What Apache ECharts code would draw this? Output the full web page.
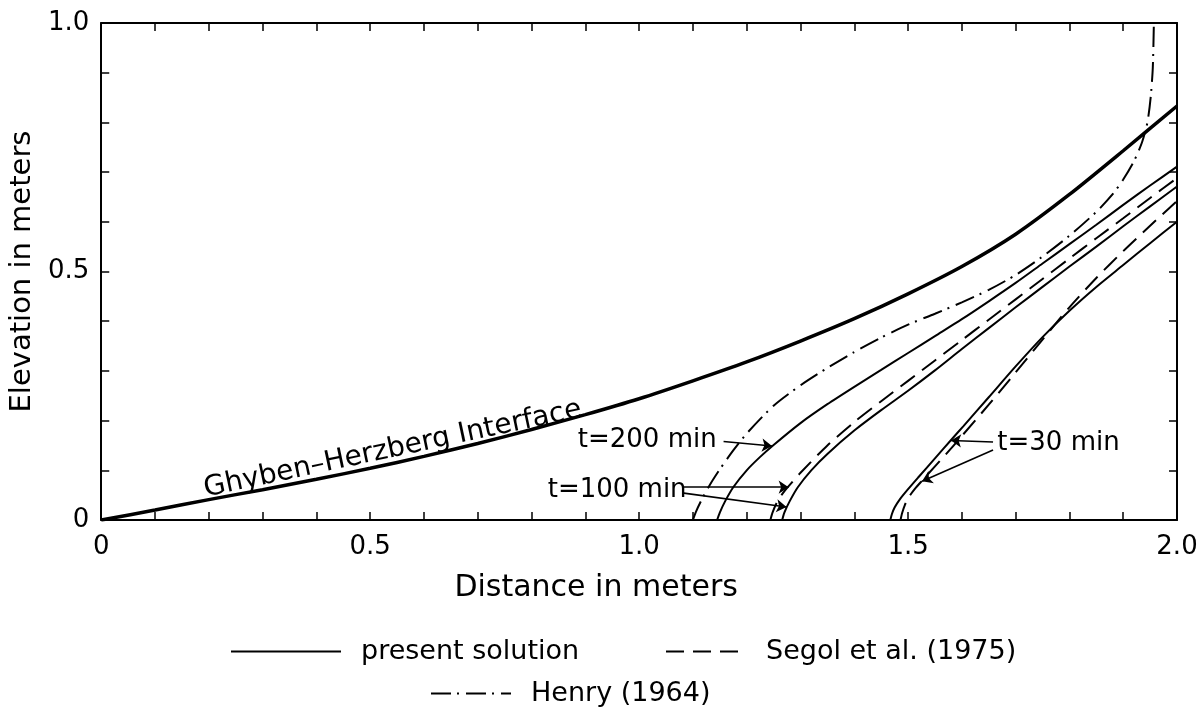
<!DOCTYPE html>
<html>
<head>
<meta charset="utf-8">
<script src="https://cdn.jsdelivr.net/npm/echarts@6/dist/echarts.min.js"></script>
<style>
  html, body { margin: 0; padding: 0; background: #fff; }
  #chart { width: 1201px; height: 711px; }
</style>
</head>
<body>
<div id="chart"></div>
<script>
// Interface and saltwater-wedge toe positions, [distance m, elevation m]
const ghybenHerzberg = [[0,0],[0.1,0.020],[0.2,0.041],[0.3,0.061],[0.4,0.082],[0.5,0.104],[0.6,0.128],[0.7,0.154],[0.8,0.182],[0.9,0.212],[1.0,0.244],[1.1,0.280],[1.2,0.318],[1.3,0.360],[1.4,0.405],[1.5,0.455],[1.6,0.510],[1.7,0.575],[1.8,0.655],[1.9,0.743],[2.0,0.833]];
const present200 = [[1.145,0],[1.15,0.015],[1.16,0.038],[1.175,0.066],[1.20,0.100],[1.225,0.127],[1.25,0.151],[1.30,0.195],[1.35,0.233],[1.40,0.268],[1.45,0.302],[1.50,0.336],[1.55,0.370],[1.60,0.404],[1.65,0.440],[1.70,0.477],[1.75,0.516],[1.80,0.555],[1.85,0.594],[1.90,0.634],[1.95,0.673],[2.0,0.711]];
const present100 = [[1.266,0],[1.27,0.015],[1.28,0.038],[1.295,0.066],[1.32,0.10],[1.35,0.133],[1.40,0.180],[1.45,0.221],[1.50,0.260],[1.55,0.301],[1.60,0.344],[1.65,0.386],[1.70,0.428],[1.75,0.469],[1.80,0.510],[1.85,0.550],[1.90,0.591],[1.95,0.631],[2.0,0.671]];
const present30 = [[1.467,0],[1.47,0.012],[1.475,0.025],[1.485,0.042],[1.50,0.062],[1.52,0.087],[1.55,0.124],[1.58,0.161],[1.603,0.189],[1.65,0.247],[1.70,0.309],[1.75,0.368],[1.80,0.421],[1.85,0.469],[1.90,0.513],[1.95,0.557],[2.0,0.600]];
const segol100 = [[1.244,0],[1.248,0.015],[1.256,0.035],[1.266,0.052],[1.278,0.068],[1.30,0.095],[1.35,0.150],[1.40,0.197],[1.45,0.239],[1.50,0.280],[1.55,0.321],[1.60,0.362],[1.65,0.403],[1.70,0.444],[1.75,0.485],[1.80,0.526],[1.85,0.567],[1.90,0.607],[1.95,0.648],[2.0,0.688]];
const segol30 = [[1.486,0],[1.489,0.014],[1.494,0.03],[1.502,0.047],[1.513,0.063],[1.526,0.079],[1.55,0.108],[1.58,0.144],[1.60,0.169],[1.65,0.232],[1.70,0.297],[1.75,0.363],[1.80,0.428],[1.85,0.487],[1.90,0.541],[1.95,0.592],[2.0,0.642]];
const henry1964 = [[1.10,0],[1.105,0.015],[1.115,0.038],[1.13,0.068],[1.15,0.102],[1.175,0.140],[1.20,0.174],[1.25,0.230],[1.30,0.271],[1.35,0.306],[1.40,0.338],[1.45,0.367],[1.50,0.393],[1.55,0.415],[1.60,0.438],[1.65,0.463],[1.70,0.493],[1.75,0.53],[1.80,0.572],[1.85,0.62],[1.88,0.655],[1.90,0.685],[1.92,0.722],[1.935,0.76],[1.945,0.80],[1.951,0.85],[1.955,0.91],[1.957,1.0]];

const xTickLabels = ['0', '0.5', '1.0', '1.5', '2.0'];
const yTickLabels = ['0', '0.5', '1.0'];

// Time labels and their leader arrows (data units)
const notes = [
  { text: 't=200 min', at: [0.886, 0.161] },
  { text: 't=100 min', at: [0.830, 0.060] },
  { text: 't=30 min',  at: [1.666, 0.155] }
];
const arrows = [
  [[1.157, 0.158], [1.247, 0.149]],
  [[1.083, 0.066], [1.278, 0.066]],
  [[1.083, 0.054], [1.274, 0.026]],
  [[1.658, 0.157], [1.580, 0.160]],
  [[1.658, 0.141], [1.526, 0.078]]
];
const interfaceLabel = { text: 'Ghyben\u2013Herzberg Interface', at: [0.542, 0.142], angle: 12 };

const FONT = 'DejaVu Sans';
const INK = '#000';

function tickFormatter(labels) {
  return function (v) {
    const k = Math.round(v * 10);
    return (k % 5 === 0) ? labels[k / 5] : '';
  };
}

const frameAxis = {
  min: 0, interval: 0.1, type: 'value',
  axisLine: { show: true, onZero: false, lineStyle: { color: INK, width: 2 } },
  axisTick: { show: true, inside: true, length: 8, lineStyle: { color: INK, width: 1.5 } },
  splitLine: { show: false }
};

const chart = echarts.init(document.getElementById('chart'));

function lineSeries(name, data, type, width) {
  return {
    type: 'line', name: name, data: data,
    symbol: 'none', smooth: 0.25,
    lineStyle: { color: INK, width: width, type: type },
    itemStyle: { color: INK },
    silent: true, z: 3
  };
}

const legendText = { fontFamily: FONT, fontSize: 27, color: INK, padding: [0, 0, 0, 15] };
const legendCommon = {
  itemHeight: 14, selectedMode: false, textStyle: legendText,
  itemStyle: { opacity: 0, borderWidth: 0 }
};

const option = {
  backgroundColor: '#fff',
  animation: false,
  grid: { left: 100, right: 24, top: 23, bottom: 191 },
  xAxis: [
    Object.assign({}, frameAxis, {
      max: 2, position: 'bottom',
      axisLabel: { formatter: tickFormatter(xTickLabels), fontFamily: FONT, fontSize: 26, color: INK, margin: 14 },
      name: 'Distance in meters', nameLocation: 'middle', nameGap: 53,
      nameTextStyle: { fontFamily: FONT, fontSize: 30, color: INK, padding: [0, 86, 0, 0] }
    }),
    Object.assign({}, frameAxis, { max: 2, position: 'top', axisLabel: { show: false } })
  ],
  yAxis: [
    Object.assign({}, frameAxis, {
      max: 1, position: 'left',
      axisLabel: { formatter: tickFormatter(yTickLabels), fontFamily: FONT, fontSize: 26, color: INK, margin: 12 },
      name: 'Elevation in meters', nameLocation: 'middle', nameGap: 58,
      nameTextStyle: { fontFamily: FONT, fontSize: 29, color: INK }
    }),
    Object.assign({}, frameAxis, { max: 1, position: 'right', axisLabel: { show: false } })
  ],
  legend: [
    Object.assign({ data: ['present solution'], left: 225, top: 633, itemWidth: 110 }, legendCommon),
    Object.assign({ data: ['Segol et al. (1975)'], left: 660, top: 633, itemWidth: 80 }, legendCommon),
    Object.assign({ data: ['Henry (1964)'], left: 425, top: 675, itemWidth: 80 }, legendCommon)
  ],
  series: [
    Object.assign(lineSeries('Ghyben-Herzberg Interface', ghybenHerzberg, 'solid', 3.5), {
      markLine: {
        silent: true, symbol: ['none', 'arrow'], symbolSize: 10,
        lineStyle: { color: INK, width: 1.6, type: 'solid' },
        label: { show: false },
        data: arrows.map(a => [{ coord: a[0] }, { coord: a[1] }])
      }
    }),
    lineSeries('present solution', present200, 'solid', 2),
    lineSeries('present solution', present100, 'solid', 2),
    lineSeries('present solution', present30, 'solid', 2),
    lineSeries('Segol et al. (1975)', segol100, [18, 9], 2),
    lineSeries('Segol et al. (1975)', segol30, [18, 9], 2),
    lineSeries('Henry (1964)', henry1964, [20, 6, 2, 7], 2)
  ]
};

chart.setOption(option);

// Place the text annotations through the axes
const graphics = notes.map(n => {
  const p = chart.convertToPixel({ xAxisIndex: 0, yAxisIndex: 0 }, n.at);
  return {
    type: 'text', x: p[0], y: p[1], z: 10,
    style: { text: n.text, fill: INK, font: '26px "' + FONT + '"', textAlign: 'left', textVerticalAlign: 'middle' }
  };
});
const gp = chart.convertToPixel({ xAxisIndex: 0, yAxisIndex: 0 }, interfaceLabel.at);
graphics.push({
  type: 'text', x: gp[0], y: gp[1], rotation: interfaceLabel.angle * Math.PI / 180, z: 10,
  style: { text: interfaceLabel.text, fill: INK, font: '28px "' + FONT + '"', textAlign: 'center', textVerticalAlign: 'middle' }
});
chart.setOption({ graphic: graphics });
</script>
</body>
</html>
